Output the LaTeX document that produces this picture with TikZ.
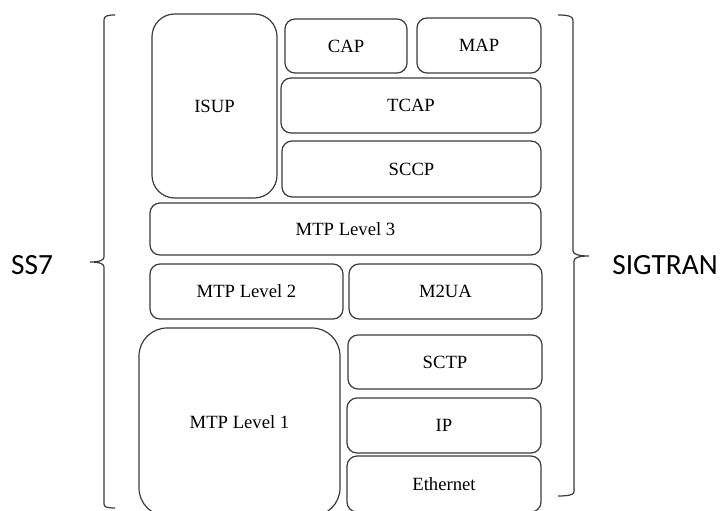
\documentclass[tikz,border=0pt]{standalone}
\usepackage{fontspec}
\setmainfont{Liberation Serif}
\newfontfamily\sidefont{Carlito}
\usetikzlibrary{fit}
\definecolor{edge}{HTML}{3A3A3A}
\tikzset{
  layer/.style={draw=edge, line width=0.9pt, rounded corners=7.5pt, inner sep=0pt},
  biglayer/.style={layer, rounded corners=17pt},
  hugelayer/.style={layer, rounded corners=21pt},
  layertext/.style={font=\fontsize{14}{16}\selectfont, text=black, inner sep=0pt},
  sidelabel/.style={font=\sidefont\fontsize{22}{26}\selectfont, text=black},
  bracket/.style={draw=edge, line width=0.9pt}
}
\begin{document}
\begin{tikzpicture}[x=0.75pt, y=-0.75pt]
\useasboundingbox (0,0) rectangle (723,510);
\clip (0,0) rectangle (723,510);
% SS7 / SIGTRAN protocol stack
\node[biglayer, fit={(152,14) (277,198)}, label={[layertext]center:ISUP}] (isup) {};
\node[layer, fit={(285,19) (407,73)}, label={[layertext]center:CAP}] (cap) {};
\node[layer, fit={(417,18) (541,73)}, label={[layertext]center:MAP}] (map) {};
\node[layer, fit={(281,78) (541,133)}, label={[layertext]center:TCAP}] (tcap) {};
\node[layer, fit={(282,141) (541,197)}, label={[layertext]center:SCCP}] (sccp) {};
\node[layer, fit={(150,203) (541,255)}, label={[layertext]center:MTP Level 3}] (mtp3) {};
\node[layer, fit={(150,264) (343,319)}, label={[layertext]center:MTP Level 2}] (mtp2) {};
\node[layer, fit={(349,264) (542,319)}, label={[layertext]center:M2UA}] (m2ua) {};
\node[hugelayer, fit={(139,328) (340,516)}, label={[layertext]center:MTP Level 1}] (mtp1) {};
\node[layer, fit={(348,335) (542,389)}, label={[layertext]center:SCTP}] (sctp) {};
\node[layer, fit={(347,398) (541,453)}, label={[layertext]center:IP}] (ip) {};
\node[layer, fit={(347,456) (541,512)}, label={[layertext]center:Ethernet}] (eth) {};
% side labels
\node[sidelabel] (ss7) at (32,265) {SS7};
\node[sidelabel] (sigtran) at (665,265) {SIGTRAN};
% curly brackets
\coordinate (ltip) at (90,262);
\coordinate (rtip) at (589,256);
\path[bracket] (115,15) .. controls (107,15) and (104,16) .. (104,20) -- (104,257)
  .. controls (104,260) and (100,262) .. (ltip)
  .. controls (100,262) and (104,264) .. (104,267) -- (104,504)
  .. controls (104,507) and (107,508) .. (115,508);
\path[bracket] (558,15) .. controls (567,15) and (573,16) .. (573,20) -- (573,251)
  .. controls (573,254) and (578,256) .. (rtip)
  .. controls (578,256) and (574,258) .. (574,261) -- (574,492)
  .. controls (574,495) and (567,496) .. (558,496);
\end{tikzpicture}
\end{document}
